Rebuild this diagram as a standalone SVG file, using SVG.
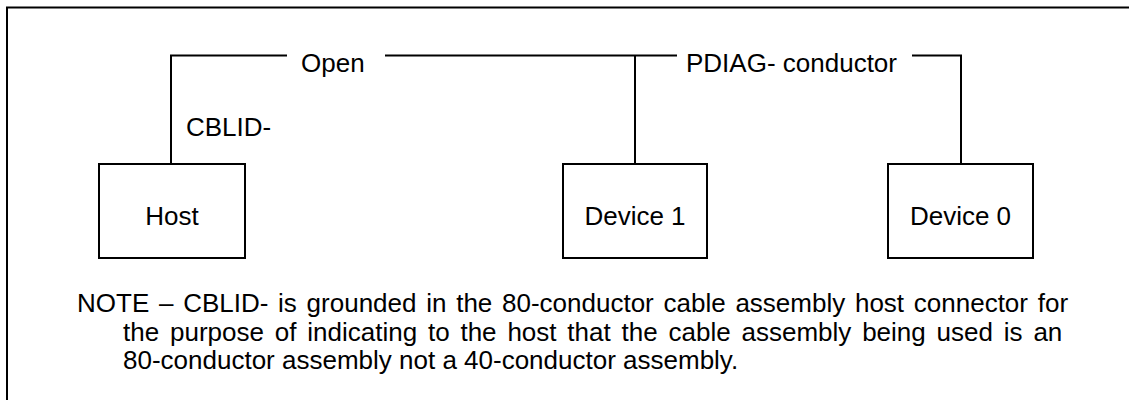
<svg xmlns="http://www.w3.org/2000/svg" width="1129" height="400" viewBox="0 0 1129 400">
<style>
.ln{fill:none;stroke:#000;stroke-width:2}
.box{fill:#fff;stroke:#000;stroke-width:2}
.t{font-family:"Liberation Sans",Arial,sans-serif;font-size:26px;fill:#000}
.c{text-anchor:middle}
</style>
<rect width="1129" height="400" fill="#fff"/>
<g id="frame"><path class="ln" d="M7,400 V7.5 H1129"/></g>
<g id="connectors">
<path class="ln" d="M171,164 V55.5 H287"/>
<path class="ln" d="M385,55.5 H677"/>
<path class="ln" d="M635,55.5 V164"/>
<path class="ln" d="M912,55.5 H961 V164"/>
</g>
<g id="labels">
<text class="t" x="301" y="72">Open</text>
<text class="t" x="686" y="72">PDIAG- conductor</text>
<text class="t" x="186" y="136">CBLID-</text>
</g>
<g id="host"><rect class="box" x="99" y="164" width="146" height="94"/><text class="t c" x="172" y="225">Host</text></g>
<g id="device1"><rect class="box" x="563" y="164" width="144" height="94"/><text class="t c" x="635" y="225">Device 1</text></g>
<g id="device0"><rect class="box" x="888" y="164" width="145" height="94"/><text class="t c" x="960.5" y="225">Device 0</text></g>
<g id="note">
<text class="t" x="77" y="312" word-spacing="2.5">NOTE – CBLID- is grounded in the 80-conductor cable assembly host connector for</text>
<text class="t" x="123" y="341" word-spacing="3.6">the purpose of indicating to the host that the cable assembly being used is an</text>
<text class="t" x="123" y="369">80-conductor assembly not a 40-conductor assembly.</text>
</g>
</svg>
